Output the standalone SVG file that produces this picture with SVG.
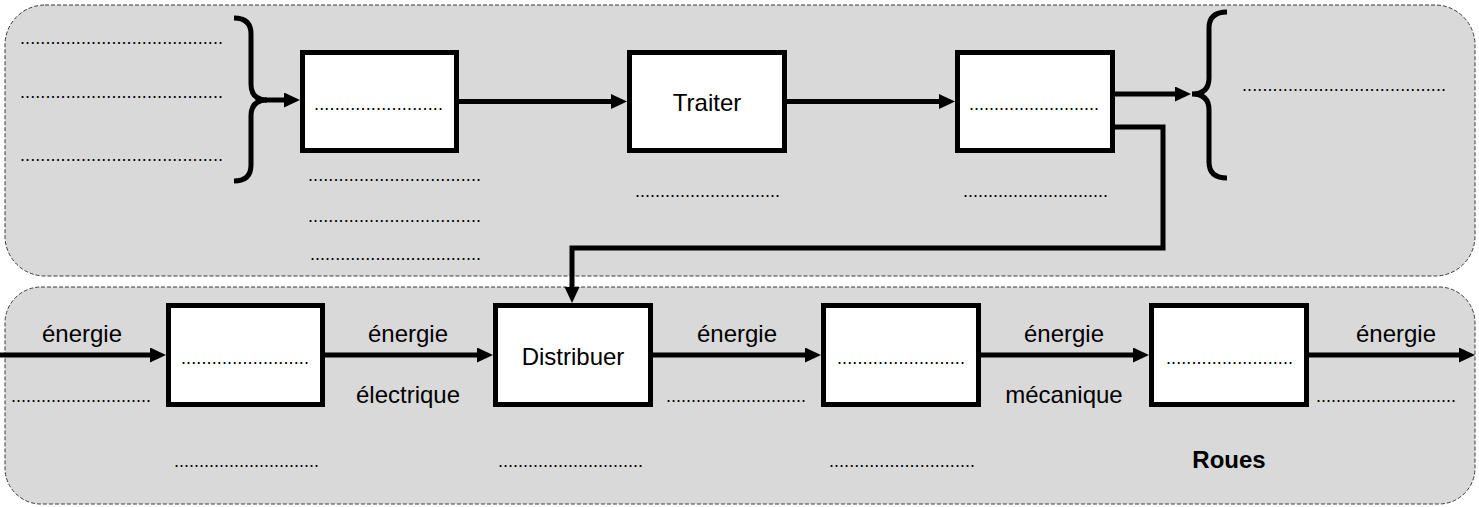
<svg xmlns="http://www.w3.org/2000/svg" width="1479" height="507" viewBox="0 0 1479 507">
  <style>
    .panel { fill: #d9d9d9; stroke: #3a3a3a; stroke-width: 1; stroke-dasharray: 4 2; }
    .box { fill: #ffffff; stroke: #000; stroke-width: 5; }
    .wire { fill: none; stroke: #000; stroke-width: 5; stroke-linejoin: miter; }
    .arrow { marker-end: url(#head); }
    .t { font-family: "Liberation Sans", Arial, sans-serif; font-size: 24px; fill: #000; text-anchor: middle; }
    .b { font-weight: bold; }
    .d { font-family: "Liberation Sans", Arial, sans-serif; font-size: 18px; fill: #000; }
  </style>
  <defs>
    <marker id="head" markerUnits="userSpaceOnUse" markerWidth="17" markerHeight="16" refX="0" refY="7.5" orient="auto">
      <path d="M0,0 L16,7.5 L0,15 Z" fill="#000"/>
    </marker>
  </defs>

  <!-- background panels -->
  <g id="panels">
    <rect id="panel-info" class="panel" x="5" y="5" width="1470" height="271" rx="40" ry="40"/>
    <rect id="panel-energy" class="panel" x="5" y="287" width="1470" height="217" rx="36" ry="36"/>
  </g>

  <!-- information chain -->
  <g id="brace-in">
    <path class="wire" d="M234,18 Q251,18 251,34 L251,84 Q251,100 267,100 Q251,100 251,116 L251,165 Q251,181 234,181"/>
    <text class="d" x="20" y="44" textLength="203" lengthAdjust="spacing">........................................</text>
    <text class="d" x="20" y="98" textLength="203" lengthAdjust="spacing">........................................</text>
    <text class="d" x="20" y="161" textLength="203" lengthAdjust="spacing">........................................</text>
  </g>

  <g id="node-acquerir">
    <rect class="box" x="302.5" y="52.5" width="154" height="98"/>
    <text class="d" x="314" y="110" textLength="129" lengthAdjust="spacing">.........................</text>
    <text class="d" x="308" y="181" textLength="173" lengthAdjust="spacing">..................................</text>
    <text class="d" x="308" y="222" textLength="173" lengthAdjust="spacing">..................................</text>
    <text class="d" x="310" y="260" textLength="171" lengthAdjust="spacing">..................................</text>
  </g>

  <g id="node-traiter">
    <rect class="box" x="629.5" y="52.5" width="155" height="98"/>
    <text class="t" x="707" y="111">Traiter</text>
    <text class="d" x="635" y="197" textLength="145" lengthAdjust="spacing">.............................</text>
  </g>

  <g id="node-communiquer">
    <rect class="box" x="957.5" y="52.5" width="155" height="98"/>
    <text class="d" x="969" y="110" textLength="130" lengthAdjust="spacing">..........................</text>
    <text class="d" x="963" y="197" textLength="145" lengthAdjust="spacing">.............................</text>
  </g>

  <g id="brace-out">
    <path class="wire" d="M1227,12 Q1209,12 1209,28 L1209,78 Q1209,94 1192,94 Q1209,94 1209,110 L1209,162 Q1209,178 1227,178"/>
    <text class="d" x="1242" y="91" textLength="204" lengthAdjust="spacing">........................................</text>
  </g>

  <!-- energy chain -->
  <g id="node-alimenter">
    <rect class="box" x="168.5" y="305.5" width="154" height="99"/>
    <text class="d" x="181" y="364" textLength="128" lengthAdjust="spacing">.........................</text>
    <text class="d" x="174" y="467" textLength="145" lengthAdjust="spacing">.............................</text>
  </g>

  <g id="node-distribuer">
    <rect class="box" x="495.5" y="305.5" width="155" height="99"/>
    <text class="t" x="573" y="365">Distribuer</text>
    <text class="d" x="498" y="467" textLength="145" lengthAdjust="spacing">.............................</text>
  </g>

  <g id="node-convertir">
    <rect class="box" x="823.5" y="305.5" width="155" height="99"/>
    <text class="d" x="837" y="364" textLength="128" lengthAdjust="spacing">.........................</text>
    <text class="d" x="829" y="467" textLength="146" lengthAdjust="spacing">.............................</text>
  </g>

  <g id="node-transmettre">
    <rect class="box" x="1151.5" y="305.5" width="155" height="99"/>
    <text class="d" x="1166" y="364" textLength="127" lengthAdjust="spacing">.........................</text>
    <text class="t b" x="1229" y="468">Roues</text>
  </g>

  <!-- connectors -->
  <g id="connectors">
    <line class="wire arrow" x1="265" y1="100" x2="284" y2="100"/>
    <line class="wire arrow" x1="459" y1="101.5" x2="611" y2="101.5"/>
    <line class="wire arrow" x1="787" y1="101.5" x2="939" y2="101.5"/>
    <line class="wire arrow" x1="1115" y1="94" x2="1175" y2="94"/>
    <path class="wire arrow" d="M1115,127 H1163 V248 H572 V287"/>

    <line class="wire arrow" x1="0" y1="355" x2="150" y2="355"/>
    <line class="wire arrow" x1="325" y1="355" x2="477" y2="355"/>
    <line class="wire arrow" x1="653" y1="355" x2="805" y2="355"/>
    <line class="wire arrow" x1="981" y1="355" x2="1133" y2="355"/>
    <line class="wire arrow" x1="1309" y1="355" x2="1459" y2="355"/>
  </g>

  <!-- flow labels -->
  <g id="flow-labels">
    <text class="t" x="82" y="342">énergie</text>
    <text class="d" x="11" y="402" textLength="140" lengthAdjust="spacing">............................</text>

    <text class="t" x="408" y="342">énergie</text>
    <text class="t" x="408" y="403">électrique</text>

    <text class="t" x="737" y="342">énergie</text>
    <text class="d" x="666" y="402" textLength="140" lengthAdjust="spacing">............................</text>

    <text class="t" x="1064" y="342">énergie</text>
    <text class="t" x="1064" y="403">mécanique</text>

    <text class="t" x="1396" y="342">énergie</text>
    <text class="d" x="1316" y="402" textLength="140" lengthAdjust="spacing">............................</text>
  </g>
</svg>
